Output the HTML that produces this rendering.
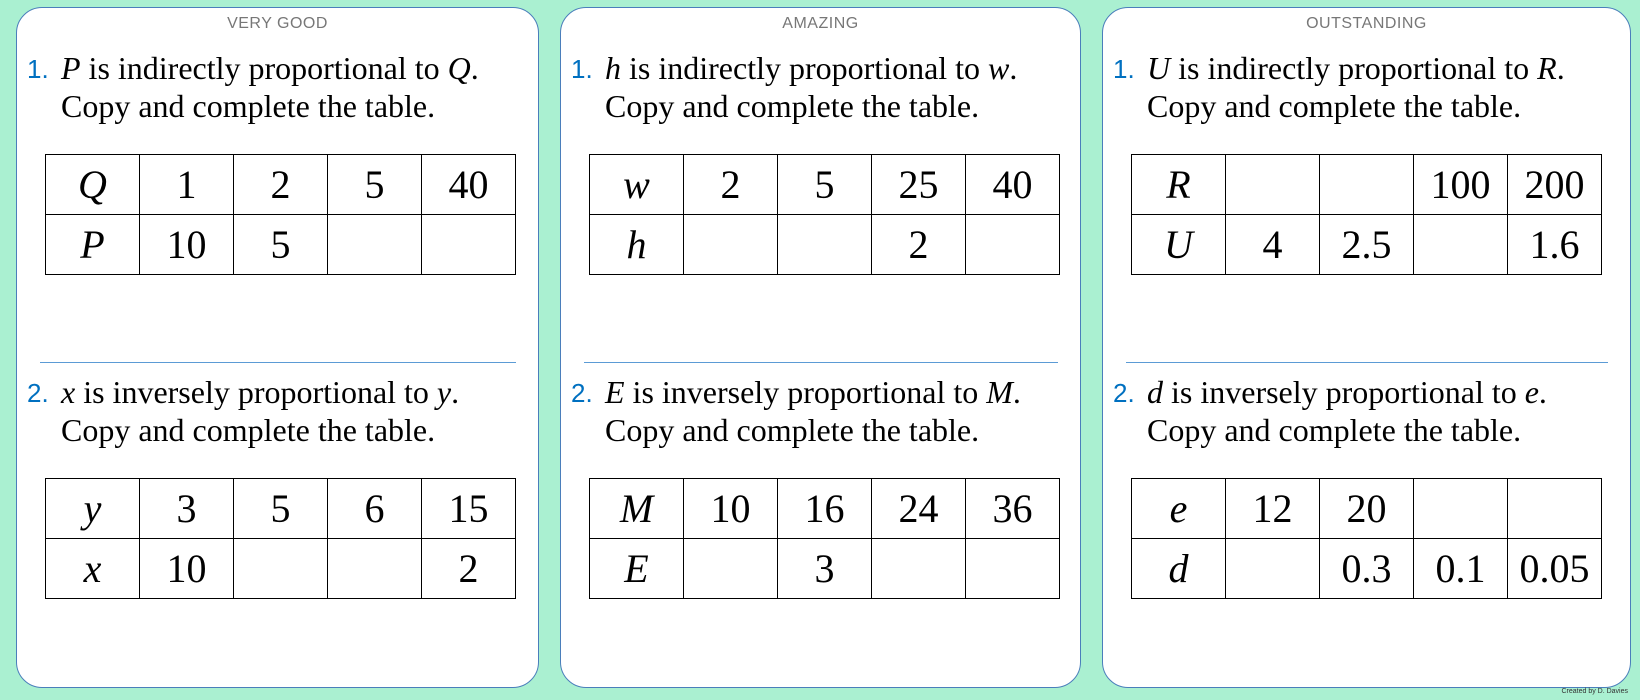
<!DOCTYPE html>
<html><head><meta charset="utf-8"><style>
body{margin:0;width:1640px;height:700px;background:#aaf0d1;position:relative;overflow:hidden;font-family:"Liberation Serif",serif}
.card{position:absolute;top:7px;height:679px;background:#fff;border:1.5px solid #4a7ebb;border-radius:26px}
.title{position:absolute;top:7px;left:0;right:0;text-align:center;font:16px "Liberation Sans",sans-serif;color:#777;letter-spacing:0.5px}
.q{position:absolute;left:10px;font-size:32px;line-height:38px;color:#000}
.q .n{position:absolute;left:0;top:1px;font-family:"Liberation Sans",sans-serif;color:#0070c0;font-size:26px}
.q div{padding-left:34px;white-space:nowrap}
i{font-style:italic}
table{position:absolute;left:28px;border-collapse:collapse;width:471px;table-layout:fixed}
td{border:1.5px solid #000;height:59px;padding:0;text-align:center;font-size:40px;line-height:40px}
.sep{position:absolute;left:23px;right:22px;top:354px;border-top:1.3px solid #5b9bd5}
.credit{position:absolute;right:12px;top:688px;font:7px "Liberation Sans",sans-serif;color:#333}
</style></head><body>

<div class="card" style="left:16px;width:521px">
<div class="title">VERY GOOD</div>
<div class="q" style="top:41px"><span class="n">1.</span><div><i>P</i> is indirectly proportional to <i>Q</i>.</div><div>Copy and complete the table.</div></div>
<table style="top:146px"><tr><td><i>Q</i></td><td>1</td><td>2</td><td>5</td><td>40</td></tr><tr><td><i>P</i></td><td>10</td><td>5</td><td></td><td></td></tr></table>
<div class="sep"></div>
<div class="q" style="top:365px"><span class="n">2.</span><div><i>x</i> is inversely proportional to <i>y</i>.</div><div>Copy and complete the table.</div></div>
<table style="top:470px"><tr><td><i>y</i></td><td>3</td><td>5</td><td>6</td><td>15</td></tr><tr><td><i>x</i></td><td>10</td><td></td><td></td><td>2</td></tr></table>
</div>

<div class="card" style="left:560px;width:519px">
<div class="title">AMAZING</div>
<div class="q" style="top:41px"><span class="n">1.</span><div><i>h</i> is indirectly proportional to <i>w</i>.</div><div>Copy and complete the table.</div></div>
<table style="top:146px"><tr><td><i>w</i></td><td>2</td><td>5</td><td>25</td><td>40</td></tr><tr><td><i>h</i></td><td></td><td></td><td>2</td><td></td></tr></table>
<div class="sep"></div>
<div class="q" style="top:365px"><span class="n">2.</span><div><i>E</i> is inversely proportional to <i>M</i>.</div><div>Copy and complete the table.</div></div>
<table style="top:470px"><tr><td><i>M</i></td><td>10</td><td>16</td><td>24</td><td>36</td></tr><tr><td><i>E</i></td><td></td><td>3</td><td></td><td></td></tr></table>
</div>

<div class="card" style="left:1102px;width:527px">
<div class="title">OUTSTANDING</div>
<div class="q" style="top:41px"><span class="n">1.</span><div><i>U</i> is indirectly proportional to <i>R</i>.</div><div>Copy and complete the table.</div></div>
<table style="top:146px"><tr><td><i>R</i></td><td></td><td></td><td>100</td><td>200</td></tr><tr><td><i>U</i></td><td>4</td><td>2.5</td><td></td><td>1.6</td></tr></table>
<div class="sep"></div>
<div class="q" style="top:365px"><span class="n">2.</span><div><i>d</i> is inversely proportional to <i>e</i>.</div><div>Copy and complete the table.</div></div>
<table style="top:470px"><tr><td><i>e</i></td><td>12</td><td>20</td><td></td><td></td></tr><tr><td><i>d</i></td><td></td><td>0.3</td><td>0.1</td><td>0.05</td></tr></table>
</div>

<div class="credit">Created by D. Davies</div>
</body></html>
